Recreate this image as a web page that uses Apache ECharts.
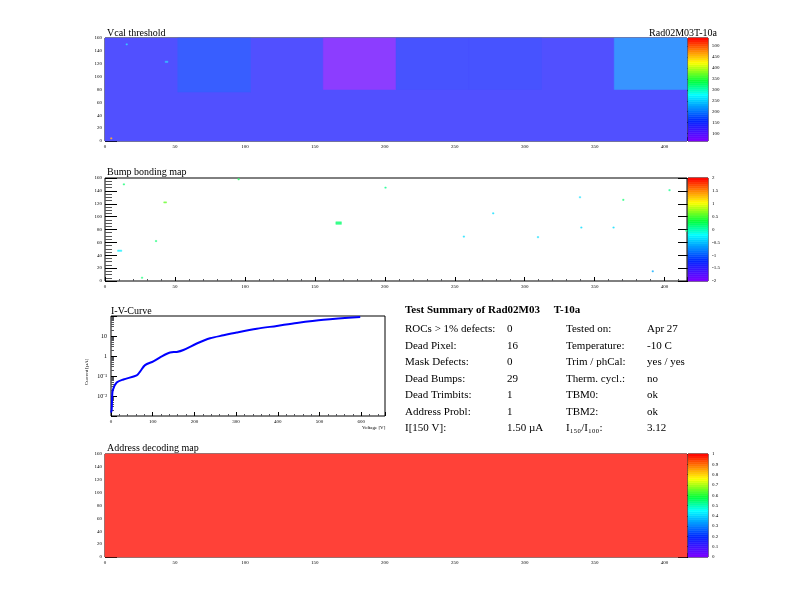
<!DOCTYPE html>
<html>
<head>
<meta charset="utf-8">
<script src="https://cdn.jsdelivr.net/npm/echarts@6/dist/echarts.min.js"></script>
<style>
  html, body { margin: 0; padding: 0; background: #fff; }
  #chart { width: 792px; height: 612px; }
</style>
</head>
<body>
<div id="chart"></div>
<script>
// region blocks: [col0, col1, row0, row1, value]
var vcalRegions = [
  [0, 416, 0, 160, 135],
  [52, 104, 76, 160, 165],
  [156, 208, 80, 160, 80],
  [208, 260, 80, 160, 150],
  [260, 312, 80, 160, 148],
  [364, 416, 80, 160, 205],
  [43, 45, 122, 124, 235],
  [15, 16, 150, 151, 240],
  [4, 5, 4, 5, 480]
];
var bumpRegions = [
  [13, 14, 150, 151, 0.2], [42, 44, 122, 123, 0.6], [165, 169, 88, 92, 0.2],
  [95, 96, 158, 159, 0.3], [36, 37, 62, 63, 0.2], [9, 12, 46, 48, -0.3],
  [200, 201, 145, 146, 0.1], [277, 278, 105, 106, -0.4], [256, 257, 69, 70, -0.4],
  [309, 310, 68, 69, -0.4], [339, 340, 130, 131, -0.4], [340, 341, 83, 84, -0.4],
  [363, 364, 83, 84, -0.4], [370, 371, 126, 127, 0.2], [391, 392, 15, 16, -0.6],
  [403, 404, 141, 142, 0.1], [415, 416, 78, 79, 0.2], [26, 27, 5, 6, 0.2]
];
var addrRegions = [
  [0, 416, 0, 160, 1]
];
var ivVoltage = [0, 1.6, 2.4, 4, 13.6, 29.6, 61.6, 69.6, 81.6, 101.6, 121.6, 141.6, 157.6, 173.6, 205.6, 237.6, 269.6, 301.6, 349.6, 397.6, 445.6, 509.6, 597.6];
var ivCurrent = [0.0015, 0.002, 0.006, 0.019, 0.047, 0.067, 0.107, 0.166, 0.35, 0.54, 0.96, 1.5, 1.6, 2.0, 4.2, 7.7, 10.8, 14.9, 23, 32, 45, 65, 90];
var vcalTicks = [100, 150, 200, 250, 300, 350, 400, 450, 500];
var bumpTicks = [-2, -1.5, -1, -0.5, 0, 0.5, 1, 1.5, 2];
var addrTicks = [0, 0.1, 0.2, 0.3, 0.4, 0.5, 0.6, 0.7, 0.8, 0.9, 1];
var summaryLeft = [
  ['ROCs > 1% defects:', '0'], ['Dead Pixel:', '16'], ['Mask Defects:', '0'],
  ['Dead Bumps:', '29'], ['Dead Trimbits:', '1'], ['Address Probl:', '1'], ['I[150 V]:', '1.50 µA']
];
var summaryRight = [
  ['Tested on:', 'Apr 27'], ['Temperature:', '-10 C'], ['Trim / phCal:', 'yes / yes'],
  ['Therm. cycl.:', 'no'], ['TBM0:', 'ok'], ['TBM2:', 'ok'], ['I₁₅₀/I₁₀₀:', '3.12']
];

var stops = [[0, [127, 0, 255]], [0.2, [0, 40, 255]], [0.45, [0, 255, 255]], [0.58, [0, 255, 60]],
  [0.76, [255, 255, 0]], [0.88, [255, 130, 0]], [1, [255, 0, 0]]];
function palette(t, light) {
  t = Math.max(0, Math.min(0.999, t));
  t = (Math.floor(t * 50) + 0.5) / 50;
  light = light || 0;
  for (var i = 1; i < stops.length; i++) {
    if (t <= stops[i][0]) {
      var a = stops[i - 1], b = stops[i], f = (t - a[0]) / (b[0] - a[0]);
      var c = a[1].map(function (v, k) {
        var x = v + (b[1][k] - v) * f;
        return Math.round(x + (255 - x) * light);
      });
      return 'rgb(' + c.join(',') + ')';
    }
  }
  return 'rgb(255,0,0)';
}

var font = 'Liberation Serif';
var maps = [
  { top: 38, regions: vcalRegions, min: 66, max: 537, ticks: vcalTicks },
  { top: 178, regions: bumpRegions, min: -2, max: 2, ticks: bumpTicks },
  { top: 454, regions: addrRegions, min: 0, max: 1, ticks: addrTicks }
];
var H = 103;
var grids = [], xAxes = [], yAxes = [], series = [];
function rectItem(params, api, fill) {
  var p0 = api.coord([api.value(0), api.value(2)]);
  var p1 = api.coord([api.value(1), api.value(3)]);
  return {
    type: 'rect',
    shape: { x: p0[0], y: p1[1], width: Math.max(p1[0] - p0[0], 1.2), height: Math.max(p0[1] - p1[1], 1.2) },
    style: { fill: fill, stroke: fill, lineWidth: 0.5 }
  };
}
maps.forEach(function (m, i) {
  // map grid
  grids.push({ left: 105, top: m.top, width: 582, height: H, show: true, borderColor: '#000', borderWidth: 1 });
  xAxes.push({ type: 'value', gridIndex: grids.length - 1, min: 0, max: 416, interval: 50,
    axisLine: { show: false }, splitLine: { show: false },
    axisTick: { inside: true, length: 4, lineStyle: { color: '#000' } },
    minorTick: { show: true, splitNumber: 5, length: 2 },
    axisLabel: { fontSize: 5, color: '#000', margin: 3, fontFamily: font, showMaxLabel: false } });
  yAxes.push({ type: 'value', gridIndex: grids.length - 1, min: 0, max: 160, interval: 20,
    axisLine: { show: false }, splitLine: { show: false },
    axisTick: { inside: true, length: 12, lineStyle: { color: '#000' } },
    minorTick: { show: true, splitNumber: 4, length: 7, lineStyle: { color: '#555' } },
    axisLabel: { fontSize: 5, color: '#000', margin: 3, fontFamily: font } });
  series.push({ type: 'custom', xAxisIndex: xAxes.length - 1, yAxisIndex: yAxes.length - 1,
    renderItem: function (params, api) {
      return rectItem(params, api, palette((api.value(4) - m.min) / (m.max - m.min), 0.22));
    },
    data: m.regions, silent: true, animation: false, z: 1 });
  // colour bar grid
  var bands = [];
  for (var k = 0; k < 50; k++) {
    var v0 = m.min + (m.max - m.min) * k / 50, v1 = m.min + (m.max - m.min) * (k + 1) / 50;
    bands.push([0, 1, v0, v1, (v0 + v1) / 2]);
  }
  grids.push({ left: 688, top: m.top, width: 20, height: H, show: true, borderColor: '#000', borderWidth: 1 });
  xAxes.push({ type: 'value', gridIndex: grids.length - 1, min: 0, max: 1, show: false });
  yAxes.push({ type: 'value', gridIndex: grids.length - 1, min: m.min, max: m.max, position: 'right',
    axisLine: { show: false }, splitLine: { show: false },
    axisTick: { inside: true, length: 10, lineStyle: { color: '#000' }, customValues: m.ticks },
    axisLabel: { fontSize: 5, color: '#000', margin: 4, fontFamily: font, customValues: m.ticks } });
  series.push({ type: 'custom', xAxisIndex: xAxes.length - 1, yAxisIndex: yAxes.length - 1,
    renderItem: function (params, api) {
      return rectItem(params, api, palette((api.value(4) - m.min) / (m.max - m.min), 0));
    },
    data: bands, silent: true, animation: false, z: 1 });
});

// I-V curve
grids.push({ left: 111, top: 316, width: 274, height: 100, show: true, borderColor: '#000', borderWidth: 1 });
xAxes.push({ type: 'value', gridIndex: grids.length - 1, min: 0, max: 657, interval: 100,
  axisLine: { show: false }, splitLine: { show: false },
  axisTick: { inside: true, length: 4, lineStyle: { color: '#000' } },
  minorTick: { show: true, splitNumber: 5, length: 2 },
  axisLabel: { fontSize: 5, color: '#000', margin: 3, fontFamily: font, showMaxLabel: false } });
yAxes.push({ type: 'log', gridIndex: grids.length - 1, logBase: 10, min: 0.001, max: 100,
  axisLine: { show: false }, splitLine: { show: false },
  axisTick: { inside: true, length: 6, lineStyle: { color: '#000' } },
  minorTick: { show: true, splitNumber: 9, length: 3 },
  axisLabel: { fontSize: 6, color: '#000', margin: 4, fontFamily: font,
    formatter: function (v) {
      var map = { '0.01': '10⁻²', '0.1': '10⁻¹', '1': '1', '10': '10' };
      return map[String(+v.toPrecision(3))] || '';
    } } });
series.push({ type: 'line', xAxisIndex: xAxes.length - 1, yAxisIndex: yAxes.length - 1,
  data: ivVoltage.map(function (v, i) { return [v, ivCurrent[i]]; }),
  smooth: 0.3, showSymbol: false, lineStyle: { color: '#0000ff', width: 2 }, animation: false });

// texts
var graphic = [
  { type: 'text', left: 107, top: 28, style: { text: 'Vcal threshold', font: '10px ' + font, fill: '#000' } },
  { type: 'text', right: 75, top: 28, style: { text: 'Rad02M03T-10a', font: '10px ' + font, fill: '#000' } },
  { type: 'text', left: 107, top: 167, style: { text: 'Bump bonding map', font: '10px ' + font, fill: '#000' } },
  { type: 'text', left: 111, top: 306, style: { text: 'I-V-Curve', font: '10px ' + font, fill: '#000' } },
  { type: 'text', left: 107, top: 443, style: { text: 'Address decoding map', font: '10px ' + font, fill: '#000' } },
  { type: 'text', left: 362, top: 425, style: { text: 'Voltage [V]', font: '5px ' + font, fill: '#000' } },
  { type: 'text', x: 84, y: 372, rotation: Math.PI / 2, style: { text: 'Current [µA]', font: '5px ' + font, fill: '#000', align: 'center' } },
  { type: 'text', left: 405, top: 305, style: { text: 'Test Summary of Rad02M03     T-10a', font: 'bold 11px ' + font, fill: '#000' } }
];
summaryLeft.forEach(function (r, i) {
  graphic.push({ type: 'text', left: 405, top: 324 + i * 16.5, style: { text: r[0], font: '11px ' + font, fill: '#000' } });
  graphic.push({ type: 'text', left: 507, top: 324 + i * 16.5, style: { text: r[1], font: '11px ' + font, fill: '#000' } });
});
summaryRight.forEach(function (r, i) {
  graphic.push({ type: 'text', left: 566, top: 324 + i * 16.5, style: { text: r[0], font: '11px ' + font, fill: '#000' } });
  graphic.push({ type: 'text', left: 647, top: 324 + i * 16.5, style: { text: r[1], font: '11px ' + font, fill: '#000' } });
});

var chart = echarts.init(document.getElementById('chart'), null, { renderer: 'canvas' });
chart.setOption({
  backgroundColor: '#fff',
  animation: false,
  grid: grids,
  xAxis: xAxes,
  yAxis: yAxes,
  series: series,
  graphic: graphic
});
</script>
</body>
</html>
